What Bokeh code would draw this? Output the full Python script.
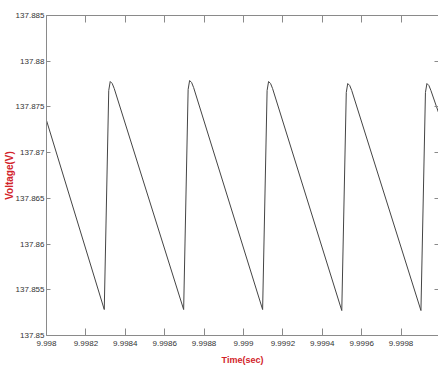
from bokeh.plotting import figure
from bokeh.models import LinearAxis, FixedTicker, Range1d
from bokeh.embed import file_html
from bokeh.resources import INLINE

# ---- data ----
time_sec = [
    9.9980000,
    9.9982932, 9.9983160, 9.9983235, 9.9983336, 9.9983437,
    9.9986962, 9.9987190, 9.9987265, 9.9987366, 9.9987467,
    9.9990971, 9.9991199, 9.9991274, 9.9991375, 9.9991476,
    9.9994990, 9.9995218, 9.9995293, 9.9995394, 9.9995495,
    9.9999009, 9.9999237, 9.9999312, 9.9999413, 9.9999514,
    9.9999900,
]
voltage_v = [
    137.87352,
    137.85284, 137.87680, 137.87778, 137.87756, 137.87702,
    137.85284, 137.87691, 137.87789, 137.87767, 137.87713,
    137.85284, 137.87680, 137.87778, 137.87756, 137.87702,
    137.85273, 137.87658, 137.87756, 137.87734, 137.87680,
    137.85273, 137.87658, 137.87756, 137.87734, 137.87680,
    137.87439,
]

x_ticks = [9.998, 9.9982, 9.9984, 9.9986, 9.9988, 9.999, 9.9992, 9.9994, 9.9996, 9.9998]
x_tick_labels = ["9.998", "9.9982", "9.9984", "9.9986", "9.9988", "9.999",
                 "9.9992", "9.9994", "9.9996", "9.9998"]
y_ticks = [137.85, 137.855, 137.86, 137.865, 137.87, 137.875, 137.88, 137.885]
y_tick_labels = ["137.85", "137.855", "137.86", "137.865", "137.87", "137.875",
                 "137.88", "137.885"]

x_label = "Time(sec)"
y_label = "Voltage(V)"

X0, X1 = 9.998, 9.99999
Y0, Y1 = 137.85, 137.885

FONT = "Liberation Sans"
AX = "#8a8a8a"
RED = "#d2232a"

p = figure(width=438, height=369, output_backend="svg", toolbar_location=None,
           x_range=Range1d(X0, X1), y_range=Range1d(Y0, Y1),
           x_axis_location=None, y_axis_location=None,
           min_border_left=45, min_border_right=0, min_border_top=15,
           min_border_bottom=34)
p.xgrid.visible = False
p.ygrid.visible = False
p.outline_line_color = None
p.background_fill_color = "white"
p.border_fill_color = "white"


def style(ax, ticks, labels, show_labels=True, line=True):
    ax.ticker = FixedTicker(ticks=ticks)
    if show_labels:
        ax.major_label_overrides = {t: l for t, l in zip(ticks, labels)}
    else:
        ax.major_label_overrides = {t: "" for t in ticks}
        ax.major_label_standoff = 0
    ax.major_tick_in = 7
    ax.major_tick_out = 0
    ax.minor_tick_in = 0
    ax.minor_tick_out = 0
    ax.major_tick_line_color = AX
    ax.axis_line_color = AX if line else None
    ax.major_label_text_font = FONT
    ax.major_label_text_color = "#333333"
    ax.major_label_text_font_size = "8px"
    ax.axis_label_text_font = FONT
    ax.axis_label_text_font_style = "bold"
    ax.axis_label_text_color = RED


bottom = LinearAxis(axis_label=x_label)
style(bottom, x_ticks, x_tick_labels)
bottom.major_label_standoff = 5
bottom.axis_label_standoff = 6
bottom.axis_label_text_font_size = "9px"
p.add_layout(bottom, "below")

left = LinearAxis(axis_label=y_label)
style(left, y_ticks, y_tick_labels)
left.major_tick_in = 4
left.major_label_standoff = 2
left.axis_label_standoff = -2
left.axis_label_text_font_size = "10px"
p.add_layout(left, "left")

top = LinearAxis()
style(top, x_ticks, x_tick_labels, show_labels=False)
p.add_layout(top, "above")

right = LinearAxis()
style(right, y_ticks, y_tick_labels, show_labels=False, line=False)
right.major_tick_in = 4
p.add_layout(right, "right")

p.line(time_sec, voltage_v, line_color="#444444", line_width=1)

open("out.html", "w").write(file_html(p, INLINE))
